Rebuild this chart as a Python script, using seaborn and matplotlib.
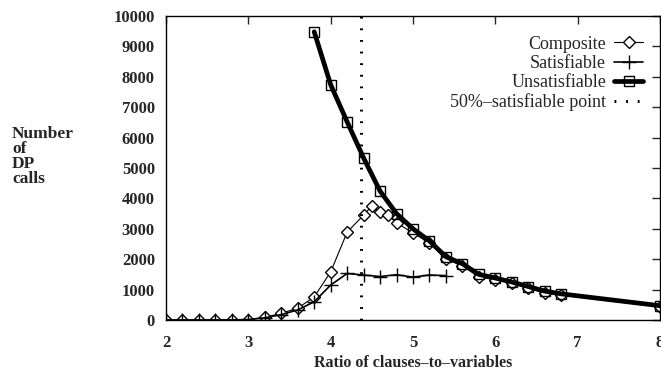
import matplotlib
matplotlib.use("Agg")
import matplotlib.pyplot as plt
import seaborn as sns

# ── Data ─────────────────────────────────────────────────────────────────────
comp_x = [2.0, 2.2, 2.4, 2.6, 2.8, 3.0, 3.2, 3.4, 3.6, 3.8, 4.0, 4.2, 4.4, 4.5,
          4.6, 4.7, 4.8, 5.0, 5.2, 5.4, 5.6, 5.8, 6.0, 6.2, 6.4, 6.6, 6.8, 8.0]
comp_y = [0, 0, 0, 0, 5, 15, 90, 220, 390, 760, 1580, 2890, 3450, 3750,
          3540, 3460, 3200, 2860, 2530, 2000, 1780, 1420, 1320, 1210, 1040,
          890, 820, 430]

sat_x = [2.0, 2.2, 2.4, 2.6, 2.8, 3.0, 3.2, 3.4, 3.6, 3.8, 4.0, 4.2, 4.4, 4.6,
         4.8, 5.0, 5.2, 5.4]
sat_y = [0, 0, 0, 0, 5, 15, 70, 180, 330, 600, 1150, 1530, 1480, 1430,
         1490, 1410, 1480, 1460]

unsat_x = [3.8, 4.0, 4.2, 4.4, 4.6, 4.8, 5.0, 5.2, 5.4, 5.6, 5.8, 6.0, 6.2,
           6.4, 6.6, 6.8, 8.0]
unsat_y = [9480, 7740, 6520, 5330, 4240, 3500, 3000, 2600, 2080, 1850, 1500,
           1380, 1250, 1100, 950, 860, 470]

half_sat_point = 4.37
ylabel_lines = ["Number", "of", "DP", "calls"]

# ── Style ────────────────────────────────────────────────────────────────────
sns.set_style("white")
plt.rcParams["font.family"] = ["Liberation Serif", "DejaVu Serif"]
plt.rcParams.update({"xtick.direction": "in", "ytick.direction": "in",
                     "xtick.major.size": 6, "ytick.major.size": 6,
                     "xtick.major.width": 1, "ytick.major.width": 1,
                     "xtick.top": True, "ytick.right": True,
                     "axes.edgecolor": "black", "axes.linewidth": 1.0})

fig = plt.figure(figsize=(6.61, 3.76), dpi=100)
ax = fig.add_axes([166 / 661, 56 / 376, 494 / 661, 304 / 376])

sns.lineplot(x=comp_x, y=comp_y, ax=ax, color="black", linewidth=0.8,
             marker="D", markersize=5.8, markerfacecolor="white",
             markeredgecolor="black", markeredgewidth=1.0, label="Composite")
sns.lineplot(x=sat_x, y=sat_y, ax=ax, color="black", linewidth=1.2,
             marker="+", markersize=10, markeredgecolor="black",
             markeredgewidth=1.0, label="Satisfiable")
sns.lineplot(x=unsat_x, y=unsat_y, ax=ax, color="black", linewidth=3.4,
             marker="s", markersize=6.5, markerfacecolor="none",
             markeredgecolor="black", markeredgewidth=1.0, label="Unsatisfiable")
ax.axvline(half_sat_point, color="black", linewidth=2.2,
           linestyle=(0, (0.6, 3.2)), label="50%\u2013satisfiable point")

ax.set_xlim(2, 8)
ax.set_ylim(0, 10000)
ax.set_xticks(range(2, 9))
ax.set_yticks(range(0, 10001, 1000))
for lab in ax.get_xticklabels() + ax.get_yticklabels():
    lab.set_fontweight("bold")
    lab.set_fontsize(12)
ax.tick_params(axis="x", pad=11)
ax.tick_params(axis="y", pad=8)

ax.set_xlabel("Ratio of clauses\u2013to\u2013variables", fontsize=11.5,
              fontweight="bold", labelpad=3)
ax.set_ylabel("")

# horizontal multi-line y label at the far left
for i, line in enumerate(ylabel_lines):
    fig.text(12 / 661, 1 - (138 + 15 * i) / 376, line, fontsize=12.5,
             fontweight="bold", ha="left", va="baseline")

leg = ax.legend(loc="upper right", markerfirst=False, frameon=False,
                fontsize=13, handlelength=1.6, handletextpad=0.45,
                labelspacing=0.12, borderaxespad=0, borderpad=0,
                bbox_to_anchor=(0.966, 0.935))

plt.savefig("out.png", dpi=100)
plt.close()
